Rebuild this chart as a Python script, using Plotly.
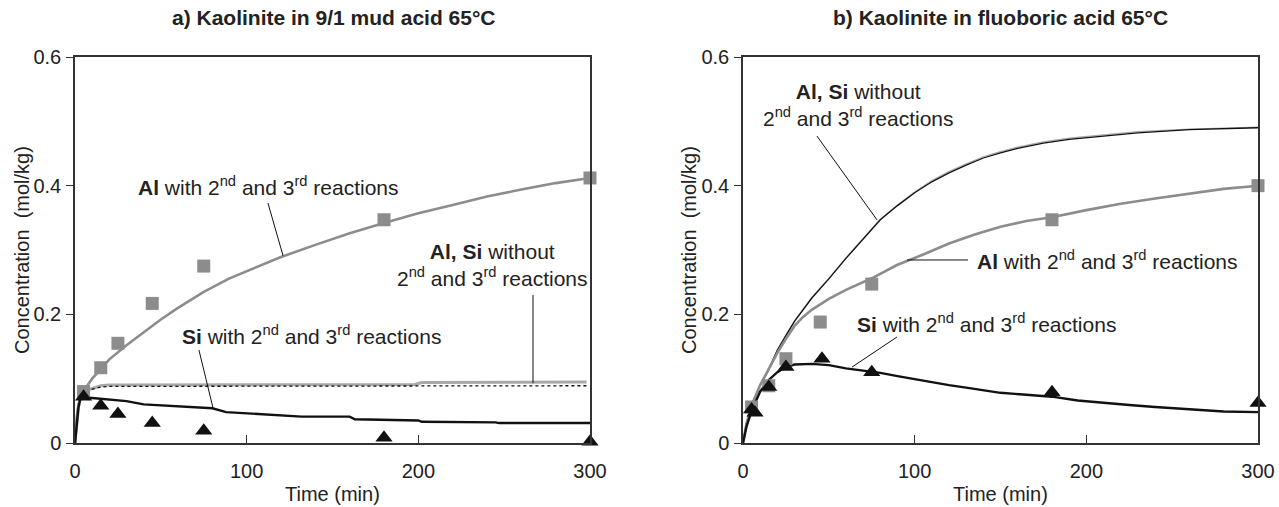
import plotly.graph_objects as go

# ---------------- data: panel a) 9/1 mud acid ----------------
a_exp_t = [5, 15, 25, 45, 75, 180, 300]
a_al_exp = [0.080, 0.117, 0.155, 0.217, 0.275, 0.347, 0.412]
a_si_exp = [0.072, 0.058, 0.045, 0.031, 0.019, 0.008, 0.002]

a_al_t = [0, 1, 2, 4, 6, 10, 15, 20, 30, 40, 50, 60, 75, 90, 105, 120, 140, 160, 180, 200, 220, 240, 260, 280, 300]
a_al_model = [0, 0.04, 0.06, 0.075, 0.085, 0.10, 0.115, 0.13, 0.152, 0.172, 0.192, 0.21, 0.235, 0.256, 0.273, 0.289, 0.308, 0.326, 0.342, 0.357, 0.370, 0.383, 0.394, 0.404, 0.412]

a_si_t = [0, 1, 2, 3, 5, 10, 20, 30, 40, 60, 80, 88, 107, 132, 160, 163, 200, 202, 245, 247, 300]
a_si_model = [0, 0.03, 0.055, 0.068, 0.071, 0.070, 0.068, 0.065, 0.060, 0.057, 0.054, 0.048, 0.045, 0.041, 0.041, 0.037, 0.035, 0.033, 0.032, 0.031, 0.031]

a_wo_t = [0, 1, 2, 3, 5, 8, 12, 15, 20, 40, 100, 150, 198, 202, 250, 298]
a_al_wo = [0, 0.03, 0.055, 0.068, 0.078, 0.083, 0.086, 0.089, 0.090, 0.090, 0.091, 0.091, 0.091, 0.094, 0.095, 0.095]
a_si_wo = [0, 0.03, 0.055, 0.068, 0.077, 0.082, 0.085, 0.087, 0.088, 0.088, 0.088, 0.088, 0.088, 0.089, 0.089, 0.089]

# ---------------- data: panel b) fluoboric acid ----------------
b_exp_t = [5, 15, 25, 45, 75, 180, 300]
b_al_exp = [0.056, 0.089, 0.131, 0.188, 0.247, 0.347, 0.400]
b_si_exp_t = [5, 7, 15, 25, 46, 75, 180, 300]
b_si_exp = [0.052, 0.047, 0.087, 0.118, 0.131, 0.110, 0.079, 0.062]

b_al_t = [0, 2, 5, 10, 15, 20, 25, 30, 35, 40, 50, 60, 75, 90, 105, 120, 135, 150, 165, 180, 200, 220, 240, 260, 280, 300]
b_al_model = [0, 0.03, 0.058, 0.09, 0.115, 0.14, 0.162, 0.182, 0.196, 0.207, 0.224, 0.238, 0.256, 0.277, 0.293, 0.31, 0.324, 0.336, 0.345, 0.351, 0.362, 0.372, 0.38, 0.388, 0.395, 0.400]

b_si_t = [0, 2, 5, 10, 15, 20, 25, 30, 40, 50, 60, 70, 80, 90, 100, 110, 120, 130, 140, 150, 165, 180, 195, 210, 225, 240, 260, 280, 300]
b_si_model = [0, 0.025, 0.05, 0.08, 0.098, 0.11, 0.118, 0.122, 0.123, 0.121, 0.116, 0.113, 0.109, 0.104, 0.099, 0.094, 0.090, 0.086, 0.082, 0.078, 0.075, 0.072, 0.066, 0.062, 0.059, 0.056, 0.052, 0.049, 0.048]

b_wo_t = [0, 2, 5, 10, 15, 20, 25, 30, 40, 50, 60, 70, 80, 90, 100, 110, 120, 130, 140, 150, 160, 175, 190, 210, 230, 260, 300]
b_al_wo = [0, 0.03, 0.06, 0.09, 0.115, 0.145, 0.168, 0.19, 0.226, 0.256, 0.288, 0.318, 0.348, 0.37, 0.39, 0.408, 0.422, 0.434, 0.445, 0.453, 0.46, 0.468, 0.474, 0.479, 0.484, 0.488, 0.491]
b_si_wo = [0, 0.03, 0.06, 0.09, 0.115, 0.144, 0.167, 0.189, 0.225, 0.255, 0.287, 0.317, 0.347, 0.369, 0.389, 0.406, 0.42, 0.432, 0.443, 0.451, 0.458, 0.466, 0.472, 0.477, 0.482, 0.487, 0.490]

x_ticks = [0, 100, 200, 300]
y_ticks = [0, 0.2, 0.4, 0.6]
y_tick_text = ["0", "0.2", "0.4", "0.6"]

titles = ["a) Kaolinite in 9/1 mud acid 65°C", "b) Kaolinite in fluoboric acid 65°C"]

GREY = "#8c8c8c"
FONT = "Liberation Sans, Arial, sans-serif"

fig = go.Figure()

def add_panel(xa, ya, al_t, al_model, si_t, si_model, wo_t, al_wo, si_wo,
              exp_t, al_exp, si_t_exp, si_exp, wo_grey_w, wo_black_dash):
    fig.add_trace(go.Scatter(x=wo_t, y=al_wo, mode="lines", xaxis=xa, yaxis=ya,
                             line=dict(color="#a8a8a8", width=wo_grey_w), showlegend=False))
    fig.add_trace(go.Scatter(x=wo_t, y=si_wo, mode="lines", xaxis=xa, yaxis=ya,
                             line=dict(color="#111", width=1.3, dash=wo_black_dash), showlegend=False))
    fig.add_trace(go.Scatter(x=al_t, y=al_model, mode="lines", xaxis=xa, yaxis=ya,
                             line=dict(color=GREY, width=2.6), showlegend=False))
    fig.add_trace(go.Scatter(x=si_t, y=si_model, mode="lines", xaxis=xa, yaxis=ya,
                             line=dict(color="#111", width=2.4), showlegend=False))
    fig.add_trace(go.Scatter(x=exp_t, y=al_exp, mode="markers", xaxis=xa, yaxis=ya, cliponaxis=False,
                             marker=dict(symbol="square", size=13, color=GREY), showlegend=False))
    fig.add_trace(go.Scatter(x=si_t_exp, y=si_exp, mode="markers", xaxis=xa, yaxis=ya, cliponaxis=False,
                             marker=dict(symbol="triangle-up", size=15, color="#111"), showlegend=False))

add_panel("x", "y", a_al_t, a_al_model, a_si_t, a_si_model, a_wo_t, a_al_wo, a_si_wo,
          a_exp_t, a_al_exp, a_exp_t, a_si_exp, 3, "dot")
add_panel("x2", "y2", b_al_t, b_al_model, b_si_t, b_si_model, b_wo_t, b_al_wo, b_si_wo,
          b_exp_t, b_al_exp, b_si_exp_t, b_si_exp, 1.2, "solid")

W, H = 1279, 507

def px(x):
    return x / W

def py(y):
    return 1 - y / H

xdom1 = [px(75), px(590)]
xdom2 = [px(743), px(1258)]
ydom = [py(443), py(57)]
FS = 20
AFS = 21

def xaxis(dom, anchor):
    return dict(domain=dom, anchor=anchor, range=[0, 300], tickvals=x_ticks, automargin=False,
                ticks="inside", ticklen=8, tickwidth=1, tickcolor="#333",
                showline=True, linecolor="#333", linewidth=1.5, mirror=True,
                showgrid=False, zeroline=False, ticklabelstandoff=9,
                tickfont=dict(family=FONT, size=FS, color="#222"))

def yaxis(anchor):
    return dict(domain=ydom, anchor=anchor, range=[0, 0.6], tickvals=y_ticks, ticktext=y_tick_text,
                automargin=False,
                ticks="outside", ticklen=7, tickwidth=1, tickcolor="#333",
                showline=True, linecolor="#333", linewidth=1.5, mirror=True,
                showgrid=False, zeroline=False, ticklabelstandoff=1,
                tickfont=dict(family=FONT, size=FS, color="#222"))

fig.update_layout(
    width=W, height=H, margin=dict(l=0, r=0, t=0, b=0, pad=0), autosize=False,
    paper_bgcolor="white", plot_bgcolor="white",
    xaxis=xaxis(xdom1, "y"), yaxis=yaxis("x"),
    xaxis2=xaxis(xdom2, "y2"), yaxis2=yaxis("x2"),
    font=dict(family=FONT, size=FS, color="#222"),
)

ann = []
for i, cx in enumerate([333, 1000]):
    ann.append(dict(text="<b>" + titles[i] + "</b>", x=px(cx), y=py(18), xref="paper", yref="paper",
                    showarrow=False, font=dict(size=21), xanchor="center", yanchor="middle"))
for cx in [332, 1000]:
    ann.append(dict(text="Time (min)", x=px(cx), y=py(494), xref="paper", yref="paper",
                    showarrow=False, xanchor="center", yanchor="middle"))
for cx in [22, 689]:
    ann.append(dict(text="Concentration  (mol/kg)", x=px(cx), y=py(250), xref="paper", yref="paper",
                    showarrow=False, textangle=-90, xanchor="center", yanchor="middle"))

SUP = "2<sup>nd</sup> and 3<sup>rd</sup> reactions"
afont = dict(size=AFS)
ann.append(dict(text="<b>Al</b> with " + SUP, x=113, y=0.40, xref="x", yref="y", showarrow=False,
                xanchor="center", yanchor="middle", font=afont))
ann.append(dict(text="<b>Al, Si</b> without<br>" + SUP, x=243, y=0.277, xref="x", yref="y", showarrow=False,
                xanchor="center", yanchor="middle", align="center", font=afont))
ann.append(dict(text="<b>Si</b> with " + SUP, x=138, y=0.168, xref="x", yref="y", showarrow=False,
                xanchor="center", yanchor="middle", font=afont))
ann.append(dict(text="<b>Al, Si</b> without<br>" + SUP, x=67, y=0.525, xref="x2", yref="y2", showarrow=False,
                xanchor="center", yanchor="middle", align="center", font=afont))
ann.append(dict(text="<b>Al</b> with " + SUP, x=212.3, y=0.2845, xref="x2", yref="y2", showarrow=False,
                xanchor="center", yanchor="middle", font=afont))
ann.append(dict(text="<b>Si</b> with " + SUP, x=141.8, y=0.1865, xref="x2", yref="y2", showarrow=False,
                xanchor="center", yanchor="middle", font=afont))
fig.update_layout(annotations=ann)

leaders = [
    ("x", "y", 112.4, 0.373, 121.2, 0.291),
    ("x", "y", 266.8, 0.230, 266.8, 0.093),
    ("x", "y", 72.2, 0.1446, 80.4, 0.0544),
    ("x2", "y2", 43.1, 0.477, 78.1, 0.3467),
    ("x2", "y2", 95.5, 0.2845, 131.1, 0.2845),
    ("x2", "y2", 89.7, 0.1648, 63.5, 0.118),
]
for xr, yr, x0, y0, x1, y1 in leaders:
    fig.add_shape(type="line", xref=xr, yref=yr, x0=x0, y0=y0, x1=x1, y1=y1,
                  line=dict(color="#111", width=1))

fig.write_html(
    "out.html",
    config={"displayModeBar": False},
    post_script="document.body.style.margin='0';document.body.style.overflow='hidden';",
)
